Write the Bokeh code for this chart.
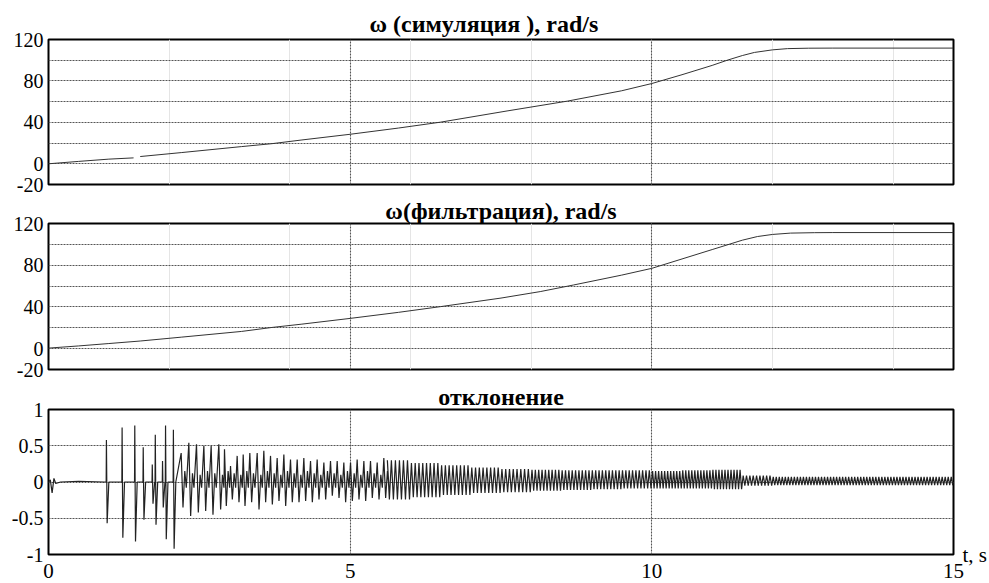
from bokeh.plotting import figure
from bokeh.layouts import column
from bokeh.models import FixedTicker, Range1d, Grid, Title, LinearAxis
from bokeh.embed import file_html
from bokeh.resources import INLINE

NaN = float("nan")

# ---------------- data ----------------
sim_t = [0, 0.5, 1.0, 1.41, NaN, 1.52, 2.2, 3.2, 3.7, 4.2, 5.0, 5.8, 6.5, 7.6, 8.6,
         9.5, 10.0, 10.5, 11.0, 11.25, 11.5, 11.7, 12.0, 12.25, 12.6, 13.0, 15.0]
sim_w = [0, 2.3, 4.5, 5.7, NaN, 7.0, 10.8, 16.6, 19.4, 23.0, 28.5, 34.5, 40.2, 51.0, 60.5,
         70.5, 77.5, 86.0, 95.0, 100.0, 104.5, 107.5, 110.0, 111.2, 111.6, 111.7, 111.7]

filt_t = [0, 0.5, 1.0, 1.52, 2.2, 3.2, 3.7, 4.2, 5.0, 5.8, 6.5, 7.5, 8.15, 8.7, 9.5,
          10.0, 10.5, 11.0, 11.25, 11.5, 11.75, 12.0, 12.3, 12.7, 13.0, 15.0]
filt_w = [0.5, 2.6, 4.9, 7.3, 11.0, 16.5, 20.3, 23.5, 29.0, 34.8, 40.3, 48.5, 54.7, 61.0, 70.5,
          77.0, 86.0, 95.0, 99.5, 104.0, 107.5, 109.5, 110.8, 111.2, 111.3, 111.3]

# deviation: quiet lead-in
lead_t = [0, 0.03, 0.06, 0.09, 0.12, 0.2, 0.5, 0.93]
lead_v = [0, 0.03, -0.15, 0.05, -0.02, 0.0, 0.01, 0.0]

# isolated large spikes
iso_t = [0.96, 1.22, 1.43, 1.57, 1.72, 1.77, 1.89, 1.94, 2.07]
iso_hi = [0.58, 0.75, 0.78, 0.48, 0.24, 0.65, 0.29, 0.78, 0.72]
iso_lo = [-0.57, -0.77, -0.82, -0.52, -0.30, -0.59, -0.35, -0.79, -0.92]

# regular spikes
reg_t = [2.199, 2.326, 2.453, 2.575, 2.696, 2.823, 2.917, 3.017, 3.127, 3.227, 3.337,
         3.459, 3.569, 3.680, 3.790, 3.901, 4.011, 4.122, 4.232, 4.343, 4.453, 4.564,
         4.674, 4.785, 4.895, 5.006, 5.116, 5.227, 5.337, 5.448, 5.558]
reg_hi = [0.40, 0.54, 0.52, 0.50, 0.50, 0.52, 0.45, 0.22, 0.36, 0.38, 0.40, 0.40, 0.43,
          0.36, 0.33, 0.38, 0.31, 0.31, 0.33, 0.29, 0.31, 0.27, 0.29, 0.29, 0.27, 0.27,
          0.31, 0.29, 0.29, 0.27, 0.33]
reg_lo = [-0.35, -0.47, -0.42, -0.40, -0.45, -0.38, -0.33, -0.24, -0.28, -0.33, -0.28,
          -0.38, -0.28, -0.31, -0.26, -0.33, -0.28, -0.28, -0.26, -0.28, -0.24, -0.24,
          -0.19, -0.22, -0.28, -0.26, -0.24, -0.26, -0.22, -0.24, -0.22]
# small interleaved swing between two regular spikes
reg_mid_hi = [0.15, 0.12, 0.10]

# dense oscillation, per time bin
bin_start = [5.6, 6.0, 6.5, 7.0, 7.5, 8.0, 8.5, 9.0, 9.5, 10.0, 10.5, 11.0, 11.5,
             12.0, 12.5, 13.0, 13.5, 14.0, 14.5]
bin_end = bin_start[1:] + [15.0]
bin_cycles = [6, 8, 8, 8, 8, 9, 9, 9, 9, 10, 10, 10, 9, 10, 10, 10, 10, 10, 10]
bin_hi = [0.30, 0.26, 0.23, 0.20, 0.18, 0.17, 0.16, 0.16, 0.16, 0.15, 0.16, 0.17, 0.09,
          0.07, 0.07, 0.07, 0.07, 0.07, 0.07]
bin_lo = [-0.24, -0.21, -0.18, -0.15, -0.14, -0.12, -0.11, -0.10, -0.09, -0.09, -0.09,
          -0.10, -0.05, -0.045, -0.045, -0.045, -0.045, -0.045, -0.045]

# tick labels
w_ticks = [-20, 0, 40, 80, 120]
w_grid = [0, 20, 40, 60, 80, 100]
d_ticks = [-1, -0.5, 0, 0.5, 1]
d_labels = ["-1", "-0.5", "0", "0.5", "1"]
t_ticks = [0, 5, 10, 15]

titles = ["ω (симуляция ), rad/s", "ω(фильтрация), rad/s", "отклонение"]
x_unit = "t, s"

# ---------------- build deviation polyline ----------------
dev_t = list(lead_t)
dev_v = list(lead_v)
for t, hi, lo in zip(iso_t, iso_hi, iso_lo):
    dev_t += [t - 0.004, t, t + 0.012, t + 0.04]
    dev_v += [0.0, hi, lo, 0.0]
for i, (t, hi, lo) in enumerate(zip(reg_t, reg_hi, reg_lo)):
    mid = reg_mid_hi[i % len(reg_mid_hi)]
    dev_t += [t, t + 0.03, t + 0.06, t + 0.085]
    dev_v += [hi, lo, mid, -0.08]
for s, e, n, hi, lo in zip(bin_start, bin_end, bin_cycles, bin_hi, bin_lo):
    per = (e - s) / n
    for k in range(n):
        tk = s + k * per
        dev_t += [tk + 0.25 * per, tk + 0.75 * per]
        dev_v += [hi, lo]
dev_t.append(15.0)
dev_v.append(0.0)

FONT = "Liberation Serif"
LINE = "#333333"
GRIDC = "#555555"
GRID_DASH = "2 1"
GRID_W = 1.1


def style_axis(ax, size, standoff):
    ax.axis_line_color = None
    ax.major_tick_line_color = None
    ax.minor_tick_line_color = None
    ax.major_tick_out = 0
    ax.major_tick_in = 0
    ax.minor_tick_out = 0
    ax.minor_tick_in = 0
    ax.major_label_standoff = standoff
    ax.major_label_text_font = FONT
    ax.major_label_text_font_size = size
    ax.major_label_text_color = "black"


def make_fig(y0, y1, title, top, frame_h, bottom, with_x, standoff, align, toff):
    p = figure(frame_width=905, frame_height=frame_h,
               x_range=Range1d(0, 15), y_range=Range1d(y0, y1),
               output_backend="svg", toolbar_location=None,
               min_border_left=48, min_border_right=36,
               min_border_top=top, min_border_bottom=bottom,
               x_axis_location="below" if with_x else None)
    p.outline_line_color = "black"
    p.outline_line_width = 2
    p.outline_line_alpha = 1.0
    p.background_fill_color = "white"
    p.border_fill_color = "white"
    style_axis(p.yaxis[0], "20px", 5)
    p.ygrid.grid_line_color = GRIDC
    p.ygrid.grid_line_dash = GRID_DASH
    p.ygrid.grid_line_width = GRID_W
    if with_x:
        xa = p.xaxis[0]
        xa.ticker = FixedTicker(ticks=t_ticks)
        style_axis(xa, "21px", 9)
        p.xgrid.ticker = FixedTicker(ticks=[5, 10])
        p.xgrid.grid_line_color = GRIDC
        p.xgrid.grid_line_dash = GRID_DASH
        p.xgrid.grid_line_width = GRID_W
    else:
        g = Grid(dimension=0, ticker=FixedTicker(ticks=[5, 10]),
                 grid_line_color=GRIDC, grid_line_dash=GRID_DASH,
                 grid_line_width=GRID_W)
        p.add_layout(g)
    p.add_layout(Title(text=title, align=align, text_font=FONT,
                       text_font_style="bold", text_font_size="24px",
                       text_color="black", standoff=standoff, offset=toff), "above")
    return p


p1 = make_fig(-20, 120, titles[0], 39, 145, 11, False, 6, "left", 321)
p1.yaxis.ticker = FixedTicker(ticks=w_ticks)
p1.yaxis.major_label_overrides = {v: str(v) for v in w_ticks}
p1.ygrid.ticker = FixedTicker(ticks=w_grid)
p1.line(sim_t, sim_w, line_color=LINE, line_width=1)

p2 = make_fig(-20, 120, titles[1], 27, 146, 12, False, 0, "center", 0)
p2.yaxis.ticker = FixedTicker(ticks=w_ticks)
p2.yaxis.major_label_overrides = {v: str(v) for v in w_ticks}
p2.ygrid.ticker = FixedTicker(ticks=w_grid)
p2.line(filt_t, filt_w, line_color=LINE, line_width=1)

p3 = make_fig(-1, 1, titles[2], 27, 145, 31, True, 0, "center", 0)
p3.yaxis.ticker = FixedTicker(ticks=d_ticks)
p3.yaxis.major_label_overrides = dict(zip(d_ticks, d_labels))
p3.ygrid.ticker = FixedTicker(ticks=[-0.5, 0, 0.5])
p3.line(dev_t, dev_v, line_color="#222222", line_width=1.2)
unit_axis = LinearAxis(ticker=FixedTicker(ticks=[-1]),
                       major_label_overrides={-1: x_unit})
style_axis(unit_axis, "21px", 9)
p3.add_layout(unit_axis, "right")

layout = column(p1, p2, p3, spacing=0)
open("out.html", "w").write(file_html(layout, INLINE))
